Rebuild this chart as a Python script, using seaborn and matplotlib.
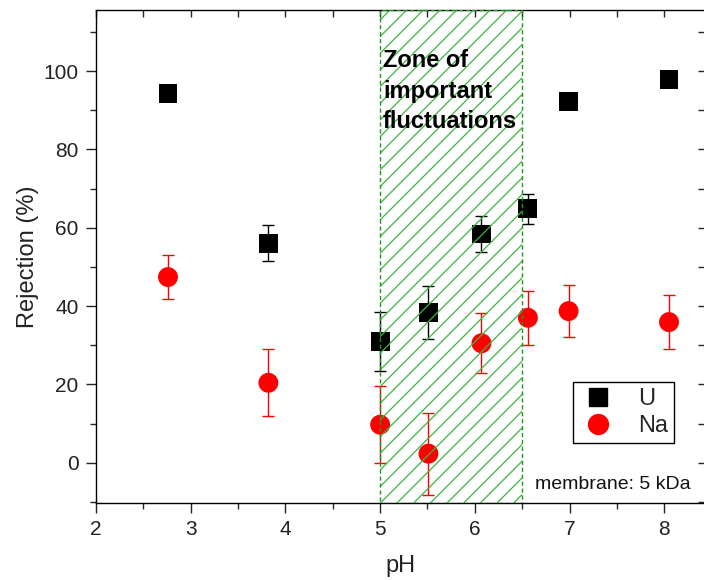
import numpy as np
import pandas as pd
import matplotlib
matplotlib.use("Agg")
import matplotlib.pyplot as plt
import seaborn as sns
from matplotlib.patches import Rectangle
from matplotlib.lines import Line2D
from matplotlib.ticker import MultipleLocator

# ---- data ----
ph_u = [2.76, 3.82, 5.00, 5.51, 6.07, 6.56, 6.99, 8.05]
rej_u = [94.2, 56.0, 31.0, 38.3, 58.4, 64.8, 92.2, 97.8]
err_u = [0.0, 4.6, 7.5, 6.7, 4.6, 3.8, 0.0, 0.0]

ph_na = [2.76, 3.82, 5.00, 5.51, 6.07, 6.56, 6.99, 8.05]
rej_na = [47.4, 20.4, 9.7, 2.3, 30.5, 37.0, 38.7, 35.9]
err_na = [5.7, 8.6, 9.8, 10.5, 7.6, 6.9, 6.6, 6.9]

zone_ph = [5.0, 6.5]
zone_text = "Zone of\nimportant\nfluctuations"
series_names = ["U", "Na"]
x_label = "pH"
y_label = "Rejection (%)"
note_text = "membrane: 5 kDa"

df = pd.DataFrame({
    "pH": ph_u + ph_na,
    "Rejection": rej_u + rej_na,
    "err": err_u + err_na,
    "Ion": ["U"] * len(ph_u) + ["Na"] * len(ph_na),
})

sns.set_theme(style="ticks")
plt.rcParams["font.family"] = ["Liberation Sans", "DejaVu Sans"]
plt.rcParams["hatch.linewidth"] = 0.9

fig = plt.figure(figsize=(7.04, 5.80), dpi=100)
ax = fig.add_axes([96 / 704, 1 - 503 / 580, 609 / 704, 493 / 580])

colors = {"U": "black", "Na": "#ff0000"}

# error bars
for ion in series_names:
    sub = df[df["Ion"] == ion]
    ax.errorbar(sub["pH"], sub["Rejection"], yerr=sub["err"], fmt="none",
                ecolor=colors[ion], elinewidth=1.0, capsize=4.5,
                capthick=1.0, zorder=2)

# markers
sns.scatterplot(data=df[df["Ion"] == "U"], x="pH", y="Rejection", color="black",
                marker="s", s=185, edgecolor="none", ax=ax, zorder=3, legend=False)
sns.scatterplot(data=df[df["Ion"] == "Na"], x="pH", y="Rejection", color="#ff0000",
                marker="o", s=205, edgecolor="none", ax=ax, zorder=3, legend=False)

ax.set_xlim(2, 8.43)
ax.set_ylim(-10.3, 115.6)

# hatched zone
hatch = Rectangle((zone_ph[0], -10.3), zone_ph[1] - zone_ph[0], 125.9,
                  facecolor="none", edgecolor="#3cb43c", hatch="//",
                  linewidth=0, zorder=5)
ax.add_patch(hatch)
border = Rectangle((zone_ph[0], -10.3), zone_ph[1] - zone_ph[0], 125.9,
                   facecolor="none", edgecolor="#1a9a1a", linewidth=1.0,
                   linestyle=(0, (3, 2)), zorder=5.5)
ax.add_patch(border)

ax.text(5.03, 105.6, zone_text, fontsize=17, fontweight="bold", ha="left",
        va="top", linespacing=1.42, zorder=6, color="black")

ax.text(0.721, 0.028, note_text, transform=ax.transAxes, fontsize=14,
        ha="left", va="baseline", color="#111111", zorder=6)

# axes styling
ax.set_xlabel(x_label, fontsize=17, color="#222222", labelpad=11)
ax.set_ylabel(y_label, fontsize=17, color="#222222", labelpad=3)
ax.xaxis.set_major_locator(MultipleLocator(1))
ax.xaxis.set_minor_locator(MultipleLocator(0.5))
ax.yaxis.set_major_locator(MultipleLocator(20))
ax.yaxis.set_minor_locator(MultipleLocator(10))
ax.tick_params(axis="both", which="major", direction="out", length=7.5,
               width=1.0, labelsize=15, colors="#222222", pad=5)
ax.tick_params(axis="both", which="minor", direction="out", length=4.5, width=1.0)
ax.tick_params(top=False, right=False, which="both")
# top/right ticks inward
sec_top = ax.secondary_xaxis("top")
sec_top.xaxis.set_major_locator(MultipleLocator(0.5))
sec_top.tick_params(direction="in", length=5, width=1.0, labeltop=False)
sec_top.spines["top"].set_visible(False)
sec_right = ax.secondary_yaxis("right")
sec_right.yaxis.set_major_locator(MultipleLocator(10))
sec_right.tick_params(direction="in", length=5, width=1.0, labelright=False)
sec_right.spines["right"].set_visible(False)
for sp in ax.spines.values():
    sp.set_linewidth(1.0)
    sp.set_color("black")

handles = [
    Line2D([], [], marker="s", color="black", linestyle="none", markersize=13.5),
    Line2D([], [], marker="o", color="#ff0000", linestyle="none", markersize=14.3),
]
leg = ax.legend(handles, series_names, loc="upper left",
                bbox_to_anchor=(0.783, 0.245), fontsize=17, frameon=True,
                fancybox=False, framealpha=1, edgecolor="black",
                borderpad=0.25, labelspacing=0.2, handletextpad=0.9,
                handlelength=1.6, borderaxespad=0)
leg.get_frame().set_linewidth(1.0)
leg.set_zorder(7)

fig.savefig("out.png", dpi=100)
